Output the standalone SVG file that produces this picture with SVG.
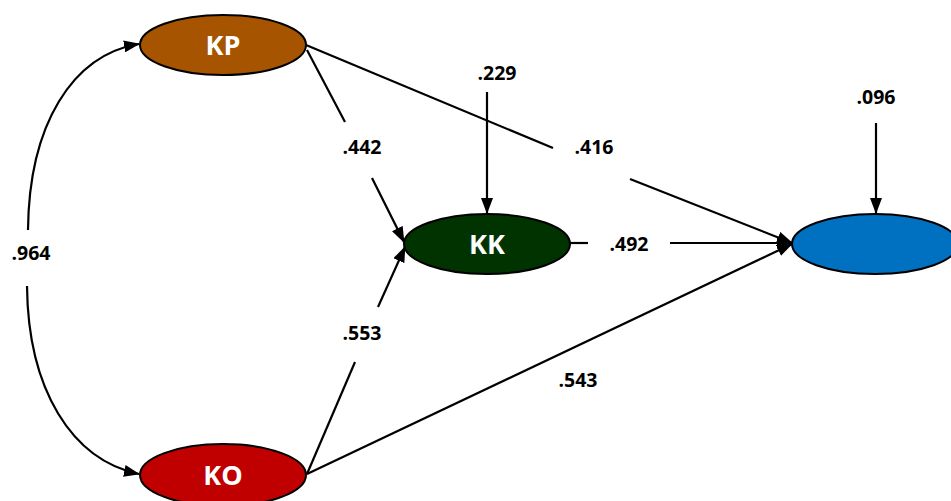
<svg xmlns="http://www.w3.org/2000/svg" width="951" height="501" viewBox="0 0 951 501">
<style>
.n{stroke:#000;stroke-width:2}
.nt{font-family:"Open Sans","Liberation Sans",sans-serif;font-weight:bold;font-size:27px;fill:#fff;text-anchor:middle}
.l{font-family:"Open Sans","Liberation Sans",sans-serif;font-weight:bold;font-size:19.5px;fill:#000;text-anchor:middle}
.c{fill:none;stroke:#000;stroke-width:2.2}
</style>
<defs>
<marker id="ah" markerWidth="16" markerHeight="12" refX="15" refY="6" orient="auto" markerUnits="userSpaceOnUse">
<path d="M0,0 L16,6 L0,12 Z" fill="#000"/>
</marker>
</defs>
<rect width="951" height="501" fill="#fff"/>
<g id="connectors">
<path class="c" d="M28,230 C29,125 72,55 139,44" marker-end="url(#ah)"/>
<path class="c" d="M27,286 C28,390 72,460 139,474" marker-end="url(#ah)"/>
<path class="c" d="M307,50 L345,122"/>
<path class="c" d="M372,178 L404,242" marker-end="url(#ah)"/>
<path class="c" d="M307,474 L355,362"/>
<path class="c" d="M378,307 L405,247" marker-end="url(#ah)"/>
<path class="c" d="M306,45 L553,148"/>
<path class="c" d="M630,179 L792,243" marker-end="url(#ah)"/>
<path class="c" d="M570,243 L588,243"/>
<path class="c" d="M670,243 L792,243" marker-end="url(#ah)"/>
<path class="c" d="M307,474 L792,244" marker-end="url(#ah)"/>
<path class="c" d="M487,92 L487,213" marker-end="url(#ah)"/>
<path class="c" d="M876,123 L876,213" marker-end="url(#ah)"/>
<text class="l" x="31" y="260">.964</text>
<text class="l" x="362" y="154">.442</text>
<text class="l" x="362" y="340">.553</text>
<text class="l" x="594" y="154">.416</text>
<text class="l" x="629" y="251">.492</text>
<text class="l" x="578" y="387">.543</text>
<text class="l" x="497" y="80">.229</text>
<text class="l" x="876" y="104">.096</text>
</g>
<g id="KP">
<ellipse class="n" cx="223" cy="45" rx="83" ry="30" fill="#A65400"/>
<text class="nt" x="223" y="55">KP</text>
</g>
<g id="KO">
<ellipse class="n" cx="223" cy="475" rx="83" ry="31" fill="#C00000"/>
<text class="nt" x="223" y="485">KO</text>
</g>
<g id="KK">
<ellipse class="n" cx="487" cy="244" rx="83" ry="30" fill="#003300"/>
<text class="nt" x="487" y="254">KK</text>
</g>
<g id="Y">
<ellipse class="n" cx="875" cy="244" rx="83" ry="30" fill="#0070C0"/>
</g>
</svg>
